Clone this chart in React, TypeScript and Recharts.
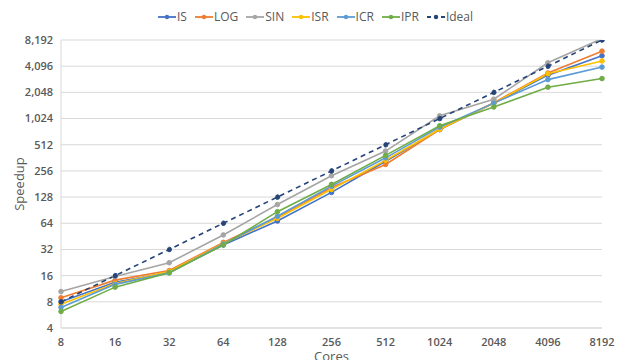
import { LineChart, Line, XAxis, YAxis, CartesianGrid, Legend, Label } from 'recharts'

const cores = ['8', '16', '32', '64', '128', '256', '512', '1024', '2048', '4096', '8192']
const isVals = [8, 13.4, 17.5, 36, 68, 145, 330, 765, 1540, 3230, 5400]
const logVals = [8.9, 14.2, 18.3, 38.6, 75, 165, 304, 765, 1560, 3420, 6100]
const sinVals = [10.5, 15.6, 22.5, 47, 105, 225, 433, 1100, 1710, 4480, 8500]
const isrVals = [7.5, 13, 17.8, 37.5, 73, 157, 340, 770, 1540, 3350, 4700]
const icrVals = [6.9, 12.7, 17.2, 37, 77, 171, 362, 815, 1540, 2870, 4000]
const iprVals = [6.2, 11.8, 17.3, 36, 87, 179, 386, 845, 1390, 2350, 2950]
const idealVals = [8, 16, 32, 64, 128, 256, 512, 1024, 2048, 4096, 8192]
const yTicks = [4, 8, 16, 32, 64, 128, 256, 512, 1024, 2048, 4096, 8192]

const SERIES = [
  { key: 'IS', values: isVals, color: '#4472C4', dash: undefined },
  { key: 'LOG', values: logVals, color: '#ED7D31', dash: undefined },
  { key: 'SIN', values: sinVals, color: '#A5A5A5', dash: undefined },
  { key: 'ISR', values: isrVals, color: '#FFC000', dash: undefined },
  { key: 'ICR', values: icrVals, color: '#5B9BD5', dash: undefined },
  { key: 'IPR', values: iprVals, color: '#70AD47', dash: undefined },
  { key: 'Ideal', values: idealVals, color: '#264478', dash: '5 4' },
]

const data = cores.map((c, i) => {
  const row: Record<string, string | number> = { cores: c }
  SERIES.forEach(s => { row[s.key] = s.values[i] })
  return row
})

const FONT = '"Open Sans", "Noto Sans", sans-serif'

function LegendContent() {
  return (
    <div style={{ display: 'flex', justifyContent: 'center', gap: 8, fontFamily: FONT, fontSize: 12, color: '#595959', paddingLeft: 4 }}>
      {SERIES.map(s => (
        <div key={s.key} style={{ display: 'flex', alignItems: 'center' }}>
          <svg width={18} height={8} style={{ marginRight: 1 }}>
            <line x1={0} y1={4} x2={18} y2={4} stroke={s.color} strokeWidth={1.8} strokeDasharray={s.dash ? '4 3' : undefined} />
            <circle cx={9} cy={4} r={2.2} fill={s.color} />
          </svg>
          <span>{s.key}</span>
        </div>
      ))}
    </div>
  )
}

export default function App() {
  return (
    <div style={{ position: 'absolute', left: 0, top: 0, background: '#fff' }}>
      <LineChart width={627} height={360} data={data} margin={{ top: 40, right: 25, bottom: 12, left: 5 }}>
        <CartesianGrid vertical={false} stroke="#D9D9D9" />
        <XAxis
          dataKey="cores"
          height={20}
          axisLine={{ stroke: '#D9D9D9' }}
          tickLine={false}
          tick={{ fill: '#595959', fontSize: 11, fontWeight: 600, fontFamily: FONT }}
          tickMargin={4}
          interval={0}
        >
          <Label value="Cores" position="insideBottom" offset={-13} style={{ fill: '#595959', fontSize: 13, fontFamily: FONT }} />
        </XAxis>
        <YAxis
          type="number"
          scale="log"
          base={2}
          domain={[4, 8192]}
          ticks={yTicks}
          allowDataOverflow
          interval={0}
          axisLine={{ stroke: '#D9D9D9' }}
          tickLine={false}
          width={56}
          tick={{ fill: '#595959', fontSize: 11, fontWeight: 600, fontFamily: FONT }}
          tickFormatter={(v: number) => v.toLocaleString('en-US')}
        >
          <Label value="Speedup" angle={-90} position="insideLeft" offset={14} style={{ fill: '#595959', fontSize: 13, fontFamily: FONT, textAnchor: 'middle' }} />
        </YAxis>
        <Legend verticalAlign="middle" wrapperStyle={{ top: 8, left: 0, width: 627 }} content={() => <LegendContent />} />
        {SERIES.map(s => (
          <Line
            key={s.key}
            dataKey={s.key}
            stroke={s.color}
            strokeWidth={1.6}
            strokeDasharray={s.dash}
            dot={{ r: 2.3, fill: s.color, stroke: s.color, strokeWidth: 1 }}
            isAnimationActive={false}
          />
        ))}
      </LineChart>
    </div>
  )
}
